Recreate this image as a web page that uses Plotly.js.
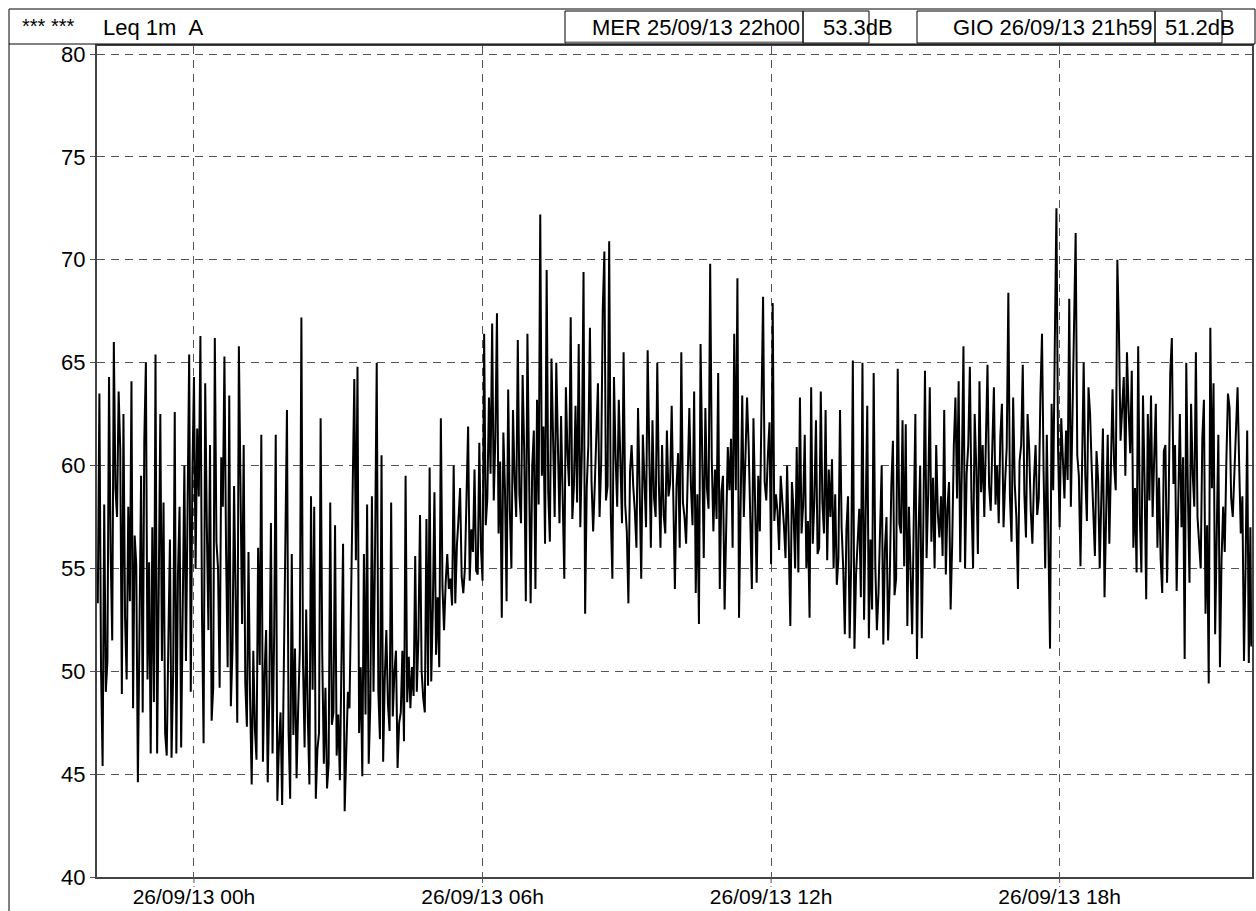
<!DOCTYPE html>
<html>
<head>
<meta charset="utf-8">
<script src="https://cdn.plot.ly/plotly-3.0.1.min.js"></script>
<style>html,body{margin:0;padding:0;background:#fff;}#chart{width:1256px;height:911px;}</style>
</head>
<body>
<div id="chart"></div>
<script>
const leq_22h = [53.3,63.5,50.2,45.4,58.1,49.0,50.5,64.3,55.8,51.5,66.0,58.9,57.5,63.6,60.8,48.9,62.5,52.6,49.6,58.0,53.4,64.1,48.2,56.6,55.2,44.6,52.0,59.5,48.0,61.2];
const leq_23h = [65.0,49.6,55.3,46.0,57.0,48.5,65.4,46.0,53.9,62.5,50.5,58.2,47.0,45.9,51.4,56.4,45.8,49.9,62.6,46.0,54.7,58.0,46.3,52.1,60.0,50.5,57.3,65.4,49.0,59.6];
const leq_00h = [64.3,55.0,61.8,58.5,66.3,52.7,46.5,64.0,57.1,52.0,61.0,47.6,49.2,66.2,56.3,55.0,49.2,60.4,58.0,65.3,55.9,50.2,63.4,48.3,51.0,59.0,53.5,47.5,65.8,57.9];
const leq_01h = [52.3,61.0,49.4,47.3,55.8,48.6,44.5,51.0,47.2,45.7,56.0,50.3,61.5,45.6,49.8,52.0,44.6,48.9,57.2,46.0,51.7,61.5,43.7,46.4,48.0,43.5,50.6,58.9,62.7,47.1];
const leq_02h = [43.8,55.7,46.9,51.1,44.8,48.2,51.0,67.2,50.4,46.3,53.0,47.8,44.5,58.5,49.1,58.0,43.8,46.2,47.0,62.3,50.9,45.5,49.2,44.3,45.5,58.2,47.4,48.0,57.1,45.9];
const leq_03h = [47.9,44.7,51.3,56.2,43.2,46.8,49.0,48.2,52.9,58.1,64.2,55.4,64.8,47.0,50.2,44.9,55.7,47.9,58.1,45.5,48.4,58.5,49.0,56.3,65.0,49.0,46.7,60.5,45.6,49.6];
const leq_04h = [52.0,48.4,47.1,58.2,47.8,49.9,51.0,45.3,47.5,48.0,51.0,46.6,59.5,48.5,50.7,48.2,50.2,48.8,55.6,49.0,51.6,57.6,50.0,48.7,48.0,57.4,49.3,59.9,49.5,53.1];
const leq_05h = [58.7,50.8,53.6,50.2,62.3,54.1,52.0,54.3,55.7,54.0,54.5,53.2,60.0,53.3,56.1,57.4,58.9,54.6,53.8,55.0,58.3,61.9,54.4,56.9,55.8,59.8,54.9,54.7,61.1,56.0];
const leq_06h = [54.4,66.4,57.1,58.4,63.3,59.6,66.9,58.3,61.4,67.4,56.7,60.2,52.6,61.6,58.8,53.4,63.7,57.9,55.0,62.7,59.3,57.5,66.1,58.6,57.2,64.4,60.7,53.4,66.4,59.0];
const leq_07h = [53.3,60.0,61.7,54.0,63.2,58.1,72.2,59.5,61.9,56.2,69.5,58.7,56.3,65.2,60.3,57.5,65.0,59.9,57.2,62.4,58.0,54.5,63.8,60.6,59.0,67.2,57.4,59.0,62.9,58.2];
const leq_08h = [65.9,57.0,60.8,69.4,52.8,58.9,61.0,66.7,59.2,56.8,59.0,61.6,64.0,57.5,60.1,67.6,70.4,58.3,59.0,70.9,57.7,54.5,64.3,60.4,58.0,63.2,59.6,57.2,65.5,58.1];
const leq_09h = [56.8,53.3,59.7,61.0,59.0,57.8,56.0,62.8,58.9,54.5,61.5,59.3,57.0,65.6,60.2,56.0,62.2,58.4,57.5,65.0,59.1,56.0,61.0,57.6,56.7,61.7,58.5,59.1,62.9,57.3];
const leq_10h = [54.0,59.0,60.6,56.0,65.5,58.2,57.5,56.2,59.4,62.8,59.0,57.1,63.6,53.8,58.6,52.3,65.9,59.8,55.5,62.8,58.9,57.9,69.8,60.3,56.8,59.8,57.4,64.5,54.0,58.7];
const leq_11h = [59.5,53.0,57.6,60.9,58.8,61.3,56.0,66.4,58.8,69.1,52.6,59.5,63.4,57.5,60.2,63.3,61.0,57.7,54.0,62.3,58.3,54.3,59.5,56.8,62.8,68.2,59.2,58.3,60.5,62.1];
const leq_12h = [55.2,67.9,57.3,58.6,57.8,55.9,59.5,58.5,57.1,55.5,60.0,56.4,52.2,59.2,57.8,55.0,60.9,54.8,63.3,56.7,58.1,61.5,55.0,57.3,52.6,63.8,56.2,58.3,62.2,55.7];
const leq_13h = [56.0,63.6,58.2,56.7,62.7,55.4,59.8,57.5,60.3,55.0,58.6,54.2,55.5,62.7,57.0,55.0,51.8,56.9,58.5,51.6,55.3,65.1,51.1,54.7,56.7,57.9,53.6,65.0,52.5,58.4];
const leq_14h = [62.9,51.6,56.4,53.0,64.5,55.2,52.0,53.8,57.6,60.0,51.3,55.9,57.5,51.5,54.3,59.0,61.2,53.7,54.5,64.7,57.2,56.7,62.2,55.1,62.0,52.2,58.0,54.0,51.8,57.4];
const leq_15h = [62.5,50.6,56.8,60.0,51.6,57.3,64.6,55.5,58.6,63.8,56.3,59.4,55.0,61.0,57.7,56.5,58.5,55.6,62.7,54.7,57.9,59.2,53.0,56.3,61.0,63.3,58.4,64.1,55.3,59.8];
const leq_16h = [65.8,55.0,59.6,61.0,64.8,58.3,55.0,62.5,59.9,55.7,64.1,58.7,61.0,57.5,60.6,64.9,59.0,57.8,60.9,63.8,58.1,60.0,57.2,61.4,63.0,57.0,59.2,60.9,68.4,58.5];
const leq_17h = [56.3,63.3,59.1,57.5,54.0,60.2,61.0,64.9,58.6,56.5,62.5,60.8,57.8,56.2,59.3,61.0,57.6,58.4,63.4,66.4,59.7,55.0,61.5,57.2,51.1,63.0,58.8,66.0,72.5,60.9];
const leq_18h = [57.0,62.3,60.1,58.4,61.7,59.3,68.1,58.0,62.4,66.7,71.3,60.5,59.5,55.1,61.1,65.0,59.5,57.3,63.8,62.5,59.9,58.0,55.6,60.7,59.3,55.0,57.9,61.8,53.6,58.6];
const leq_19h = [61.5,56.2,60.3,63.7,60.0,58.8,70.0,66.5,61.2,63.0,64.3,59.5,65.5,62.8,60.6,64.6,56.0,58.9,54.8,65.8,57.6,54.8,63.4,59.1,53.5,62.5,58.3,63.4,57.5,60.4];
const leq_20h = [63.0,56.0,59.4,55.5,53.8,60.7,61.0,54.3,58.2,64.5,66.2,59.1,61.0,53.9,57.8,62.5,57.0,60.4,50.6,65.0,58.7,54.3,63.0,59.6,58.0,65.5,57.5,56.0,55.0,61.3];
const leq_21h = [63.2,52.8,57.1,49.4,66.7,58.9,64.0,51.8,56.3,61.5,50.2,55.4,58.0,55.8,60.2,63.5,62.8,58.4,57.5,59.5,61.6,63.8,60.0,56.7,58.5,50.5,55.2,61.7,50.4,57.0];
const lastTime = '2013-09-26 21:59';
const lastValue = 51.2;

const startTime = '2013-09-25 22:00';
const stepMinutes = 2;

const xTickLabels = ['26/09/13 00h','26/09/13 06h','26/09/13 12h','26/09/13 18h'];
const xTickTimes = ['2013-09-26 00:00','2013-09-26 06:00','2013-09-26 12:00','2013-09-26 18:00'];
const yTicks = [40,45,50,55,60,65,70,75,80];

const headerStars = '*** ***';
const headerTitle = 'Leq 1m\u00a0\u00a0A';
const cursorA = {label:'MER 25/09/13 22h00', value:'53.3dB'};
const cursorB = {label:'GIO 26/09/13 21h59', value:'51.2dB'};

const values = [].concat(leq_22h,leq_23h,leq_00h,leq_01h,leq_02h,leq_03h,leq_04h,leq_05h,
  leq_06h,leq_07h,leq_08h,leq_09h,leq_10h,leq_11h,leq_12h,leq_13h,leq_14h,leq_15h,
  leq_16h,leq_17h,leq_18h,leq_19h,leq_20h,leq_21h);

function fmt(d){
  const p=n=>String(n).padStart(2,'0');
  return d.getFullYear()+'-'+p(d.getMonth()+1)+'-'+p(d.getDate())+' '+p(d.getHours())+':'+p(d.getMinutes());
}
const t0 = new Date(startTime.replace(' ','T')+':00');
const times = values.map((v,i)=>fmt(new Date(t0.getTime()+i*stepMinutes*60000)));
times.push(lastTime);
values.push(lastValue);

// layout geometry (pixels)
const W=1256,H=911, L=97, R=1252, T=46, B=877;
const px = x => (x-L)/(R-L);
const py = y => 1-(y-T)/(B-T);
const FONT = 'Liberation Sans, Arial, sans-serif';

const shapes = [
  {type:'rect',xref:'paper',yref:'paper',x0:px(9),x1:px(1255),y0:py(44),y1:py(9),line:{color:'#000',width:1}},
  {type:'line',xref:'paper',yref:'paper',x0:px(9),x1:px(9),y0:py(44),y1:py(911),line:{color:'#000',width:1}},
  {type:'rect',xref:'paper',yref:'paper',x0:px(565),x1:px(803),y0:py(43),y1:py(11),line:{color:'#000',width:1}},
  {type:'line',xref:'paper',yref:'paper',x0:px(566),x1:px(803),y0:py(42.5),y1:py(42.5),line:{color:'#777',width:2}},
  {type:'rect',xref:'paper',yref:'paper',x0:px(803),x1:px(869),y0:py(43),y1:py(11),line:{color:'#000',width:1}},
  {type:'rect',xref:'paper',yref:'paper',x0:px(917),x1:px(1155),y0:py(43),y1:py(11),line:{color:'#000',width:1}},
  {type:'rect',xref:'paper',yref:'paper',x0:px(1155),x1:px(1222),y0:py(43),y1:py(11),line:{color:'#000',width:1}}
];
// x tick marks below the axis (dashed continuation of the grid)
xTickTimes.forEach(t=>shapes.push({type:'line',xref:'x',yref:'paper',x0:t,x1:t,y0:py(877),y1:py(887),line:{color:'#555',width:1,dash:'6px,3px'}}));

const hy = py(27);
const hf = {family:FONT,size:22,color:'#000'};
const annotations = [
  {text:headerStars,x:px(20),y:py(26),xanchor:'left',yanchor:'middle',xref:'paper',yref:'paper',showarrow:false,font:{family:FONT,size:20,color:'#000'}},
  {text:headerTitle,x:px(101),y:hy,xanchor:'left',yanchor:'middle',xref:'paper',yref:'paper',showarrow:false,font:hf},
  {text:cursorA.label,x:px(802),y:hy,xanchor:'right',yanchor:'middle',xref:'paper',yref:'paper',showarrow:false,font:hf},
  {text:cursorA.value,x:px(821),y:hy,xanchor:'left',yanchor:'middle',xref:'paper',yref:'paper',showarrow:false,font:hf},
  {text:cursorB.label,x:px(1154),y:hy,xanchor:'right',yanchor:'middle',xref:'paper',yref:'paper',showarrow:false,font:hf},
  {text:cursorB.value,x:px(1163),y:hy,xanchor:'left',yanchor:'middle',xref:'paper',yref:'paper',showarrow:false,font:hf}
];

const trace = {
  x: times, y: values, type:'scatter', mode:'lines',
  line:{color:'#000',width:2}, hoverinfo:'skip'
};

const layout = {
  width:W, height:H,
  margin:{l:L, r:W-R, t:T, b:H-B, pad:0},
  paper_bgcolor:'#fff', plot_bgcolor:'#fff',
  showlegend:false,
  font:{family:FONT,size:21,color:'#000'},
  xaxis:{
    type:'date',
    range:['2013-09-25 21:59','2013-09-26 22:00'],
    tickmode:'array', tickvals:xTickTimes, ticktext:xTickLabels,
    ticks:'', ticklen:0,
    showgrid:true, gridcolor:'#555', gridwidth:1, griddash:'8px,6px',
    showline:true, linecolor:'#444', linewidth:2, mirror:true,
    zeroline:false, tickfont:{family:FONT,size:21,color:'#000'}
  },
  yaxis:{
    range:[40,80.39],
    tickmode:'array', tickvals:yTicks,
    ticks:'outside', ticklen:5, tickcolor:'#555', tickwidth:1,
    showgrid:true, gridcolor:'#555', gridwidth:1, griddash:'8px,6px',
    showline:true, linecolor:'#444', linewidth:2, mirror:true,
    zeroline:false, tickfont:{family:FONT,size:22,color:'#000'}
  },
  shapes:shapes,
  annotations:annotations
};

Plotly.newPlot('chart',[trace],layout,{staticPlot:true,displayModeBar:false});
</script>
</body>
</html>
